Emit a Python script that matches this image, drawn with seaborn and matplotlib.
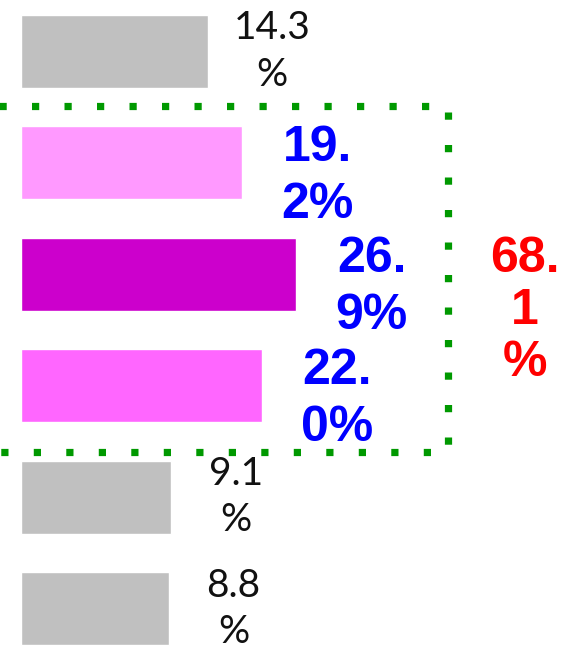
import matplotlib
matplotlib.use("Agg")
import matplotlib.pyplot as plt
from matplotlib.patches import Rectangle
import seaborn as sns
import pandas as pd

# values (percent)
categories = ["A", "B", "C", "D", "E", "F"]
values = [14.3, 19.2, 26.9, 22.0, 9.1, 8.8]
labels = ["14.3\n%", "19.\n2%", "26.\n9%", "22.\n0%", "9.1\n%", "8.8\n%"]
bar_colors = ["#C0C0C0", "#FF99FF", "#CC00CC", "#FF66FF", "#C0C0C0", "#C0C0C0"]
highlight = [False, True, True, True, False, False]
group_total = "68.\n1\n%"

# the bars in the original do not start at zero; emulate with a base offset
BASE = 12.2

sns.set_style("white")
fig = plt.figure(figsize=(5.74, 6.51), dpi=100)
ax = fig.add_axes([0, 0, 1, 1])

df = pd.DataFrame({"cat": categories, "val": [v + BASE for v in values]})
sns.barplot(data=df, x="val", y="cat", hue="cat", palette=bar_colors,
            legend=False, width=0.655, saturation=1, ax=ax)

for i, (v, lab, hi) in enumerate(zip(values, labels, highlight)):
    x_end = v + BASE
    if hi:
        ax.text(x_end + 10.7, i + 0.12, lab, ha="center", va="center",
                fontsize=36, fontweight="bold", color="#0000FF",
                family="Liberation Sans", linespacing=1.3)
    else:
        ax.text(x_end + 9.2, i + 0.0, lab, ha="center", va="center",
                fontsize=28, fontweight="normal", color="#111111",
                family=["Lato", "DejaVu Sans"], linespacing=1.35)

# dotted box around the highlighted group
rows = [i for i, h in enumerate(highlight) if h]
top, bottom = rows[0] - 0.51, rows[-1] + 0.59
right = 60.6
box = Rectangle((-4, top), right + 4, bottom - top, fill=False,
                edgecolor="#009900", linewidth=5.2,
                linestyle=(0, (1.0, 3.5)), clip_on=False)
ax.add_patch(box)
ax.text(right + 11, (rows[0] + rows[-1]) / 2 + 0.33, group_total,
        ha="center", va="center", fontsize=36, fontweight="bold",
        color="#FF0000", family="Liberation Sans", linespacing=1.17)

ax.set_xlim(-2.98, 78.55)
ax.set_ylim(5.38, -0.462)
ax.set_xlabel("")
ax.set_ylabel("")
ax.set_xticks([])
ax.set_yticks([])
sns.despine(ax=ax, left=True, bottom=True)

fig.savefig("out.png", dpi=100)
